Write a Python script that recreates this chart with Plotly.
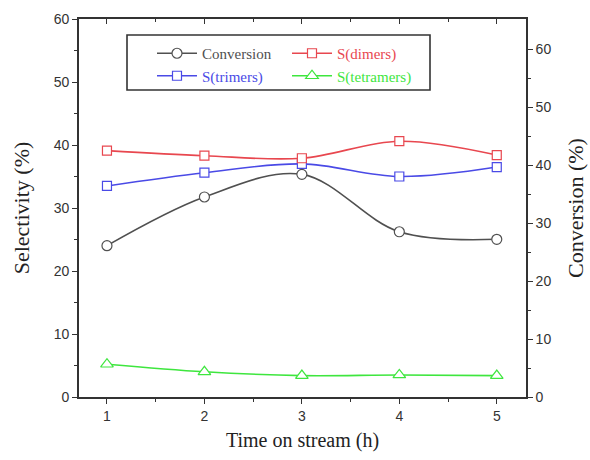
import plotly.graph_objects as go

time_h = [1, 2, 3, 4, 5]
conversion = [26.1, 34.5, 38.4, 28.5, 27.2]
s_dimers = [39.1, 38.3, 37.9, 40.6, 38.4]
s_trimers = [33.5, 35.6, 37.0, 35.0, 36.5]
s_tetramers = [5.2, 4.0, 3.4, 3.5, 3.4]

C_CONV = "#505050"
C_DIM = "#e8474f"
C_TRI = "#4a4ae6"
C_TET = "#3ee63e"

AX = "#333333"
tickfont = dict(family="Liberation Sans", size=14, color="#333333")
serif = "Liberation Serif"

fig = go.Figure()

def add(x, y, name, color, symbol, size, legend, xa="x", ya="y"):
    fig.add_trace(go.Scatter(
        x=x, y=y, mode="lines+markers",
        name=f"<span style='color:{color};font-family:{serif}'>{name}</span>",
        line=dict(color=color, width=1.6, shape="spline", smoothing=1.0),
        marker=dict(symbol=symbol, size=size, color="white",
                    line=dict(color=color, width=1.2)),
        legend=legend, xaxis=xa, yaxis=ya,
    ))

add(time_h, conversion, "Conversion", C_CONV, "circle", 10, "legend", "x2", "y2")
add(time_h, s_trimers, "S(trimers)", C_TRI, "square", 9, "legend")
add(time_h, s_dimers, "S(dimers)", C_DIM, "square", 9, "legend2")
add(time_h, s_tetramers, "S(tetramers)", C_TET, "triangle-up", 11, "legend2")

xrange = [0.713, 5.30]

fig.update_layout(
    width=590, height=460,
    margin=dict(l=79, r=64, t=19, b=63),
    paper_bgcolor="white", plot_bgcolor="white",
    showlegend=True,
    xaxis=dict(
        range=xrange, tickvals=time_h, ticks="outside", ticklen=5, tickwidth=1.3,
        tickcolor=AX, showline=True, linecolor=AX, linewidth=1.6,
        showgrid=False, zeroline=False, tickfont=tickfont, automargin=False,
        minor=dict(dtick=0.5, ticks="outside", ticklen=3, tickcolor=AX, showgrid=False),
        title=dict(text="Time on stream (h)", font=dict(family=serif, size=20, color="#222"),
                   standoff=10),
    ),
    xaxis2=dict(
        range=xrange, tickvals=time_h, overlaying="x", side="top", ticks="inside",
        ticklen=5, tickwidth=1.3, tickcolor=AX, showline=True, linecolor=AX,
        linewidth=1.6, showticklabels=False, showgrid=False, zeroline=False,
        automargin=False,
        minor=dict(dtick=0.5, ticks="inside", ticklen=3, tickcolor=AX, showgrid=False),
    ),
    yaxis=dict(
        range=[0, 60], dtick=10, ticks="outside", ticklen=5, tickwidth=1.3,
        tickcolor=AX, showline=True, linecolor=AX, linewidth=1.6,
        showgrid=False, zeroline=False, tickfont=tickfont, automargin=False,
        minor=dict(dtick=5, ticks="outside", ticklen=3, tickcolor=AX, showgrid=False),
        title=dict(text="Selectivity (%)", font=dict(family=serif, size=22, color="#222"),
                   standoff=18),
    ),
    yaxis2=dict(
        range=[0, 65.2], tickvals=[0, 10, 20, 30, 40, 50, 60], overlaying="y", side="right",
        anchor="x", ticks="outside", ticklen=5, tickwidth=1.3, tickcolor=AX,
        showline=True, linecolor=AX, linewidth=1.6, showgrid=False, zeroline=False,
        tickfont=tickfont, automargin=False,
        minor=dict(tickvals=[5, 15, 25, 35, 45, 55], ticks="outside", ticklen=3,
                   tickcolor=AX, showgrid=False),
        title=dict(text="Conversion (%)", font=dict(family=serif, size=22, color="#222"),
                   standoff=17),
    ),
    legend=dict(
        x=(152 - 79) / 447, y=(397 - 37) / 378, xanchor="left", yanchor="top",
        bgcolor="rgba(0,0,0,0)", font=dict(family=serif, size=15),
        tracegroupgap=0, itemwidth=40,
    ),
    legend2=dict(
        x=(287 - 79) / 447, y=(397 - 37) / 378, xanchor="left", yanchor="top",
        bgcolor="rgba(0,0,0,0)", font=dict(family=serif, size=15),
        tracegroupgap=0, itemwidth=40,
    ),
    shapes=[dict(type="rect", xref="paper", yref="paper",
                 x0=(127 - 79) / 447, x1=(430 - 79) / 447,
                 y0=(397 - 90) / 378, y1=(397 - 35) / 378,
                 line=dict(color=AX, width=1.6), fillcolor="rgba(0,0,0,0)")],
)

fig.write_html("out.html")
